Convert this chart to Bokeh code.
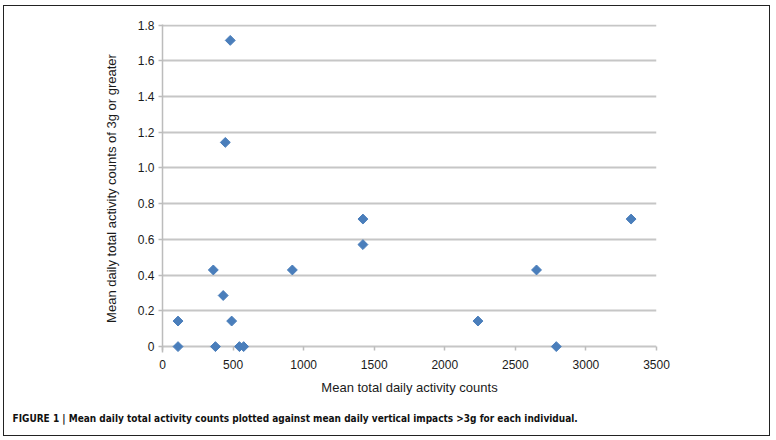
from bokeh.plotting import figure
from bokeh.models import Range1d, FixedTicker, Title
from bokeh.embed import file_html
from bokeh.resources import INLINE
import math

# Data
mean_total_counts = [110, 110, 360, 375, 430, 445, 480, 490, 545, 575,
                     920, 1420, 1420, 2235, 2650, 2790, 3320]
mean_impacts_3g = [0.143, 0.0, 0.429, 0.0, 0.286, 1.143, 1.714, 0.143, 0.0, 0.0,
                   0.429, 0.714, 0.571, 0.143, 0.429, 0.0, 0.714]

x_ticks = [0, 500, 1000, 1500, 2000, 2500, 3000, 3500]
y_ticks = [0, 0.2, 0.4, 0.6, 0.8, 1.0, 1.2, 1.4, 1.6, 1.8]
y_tick_labels = ["0", "0.2", "0.4", "0.6", "0.8", "1.0", "1.2", "1.4", "1.6", "1.8"]

x_label = "Mean total daily activity counts"
y_label = "Mean daily total activity counts of 3g or greater"
caption = ("FIGURE 1 | Mean daily total activity counts plotted against mean daily "
           "vertical impacts >3g for each individual.")

p = figure(width=767, height=431, output_backend="svg", toolbar_location=None,
           x_range=Range1d(0, 3500), y_range=Range1d(-0.033, 1.803),
           min_border_left=158, min_border_right=115, min_border_top=18,
           min_border_bottom=84)
p.styles = {"border": "1px solid #222", "margin-left": "3px", "margin-top": "5px"}
p.outline_line_color = None
p.background_fill_color = "white"
p.border_fill_color = "white"

p.scatter(mean_total_counts, mean_impacts_3g, marker="square", angle=math.pi / 4,
          size=7, fill_color="#4a7ebb", line_color="#4a7ebb")

axis_col = "#bcbcbc"
tick_font = "Liberation Sans"

p.xaxis.ticker = FixedTicker(ticks=x_ticks)
p.yaxis.ticker = FixedTicker(ticks=y_ticks)
p.yaxis.major_label_overrides = {t: l for t, l in zip(y_ticks, y_tick_labels)}

for ax in (p.xaxis, p.yaxis):
    ax.axis_line_color = axis_col
    ax.axis_line_width = 1.5
    ax.major_tick_line_color = axis_col
    ax.major_tick_line_width = 1.5
    ax.minor_tick_line_color = None
    ax.major_label_text_font = tick_font
    ax.major_label_text_font_size = "12px"
    ax.major_label_text_color = "#1a1a1a"
    ax.axis_label_text_font = tick_font
    ax.axis_label_text_font_size = "13px"
    ax.axis_label_text_font_style = "normal"
    ax.axis_label_text_color = "#1a1a1a"

# x axis sits at the frame bottom, a few px below y=0: the y=0 gridline acts as axis line
p.xaxis.axis_line_color = None
p.xaxis.major_tick_in = 6
p.xaxis.major_tick_out = -2
p.yaxis.major_tick_in = 0
p.yaxis.major_tick_out = 4

p.xaxis.axis_label = x_label
p.yaxis.axis_label = y_label
p.xaxis.major_label_standoff = 7
p.xaxis.axis_label_standoff = 8
p.yaxis.major_label_standoff = 4
p.yaxis.axis_label_standoff = 16

p.xgrid.grid_line_color = None
p.ygrid.ticker = FixedTicker(ticks=y_ticks)
p.ygrid.grid_line_color = "#c6c6c6"
p.ygrid.grid_line_width = 2

p.add_layout(Title(text=caption, align="left", offset=-150, standoff=27,
                   text_font="DejaVu Sans Condensed", text_font_style="bold",
                   text_font_size="10px", text_color="#111111"), "below")

open("out.html", "w").write(file_html(p, INLINE))
